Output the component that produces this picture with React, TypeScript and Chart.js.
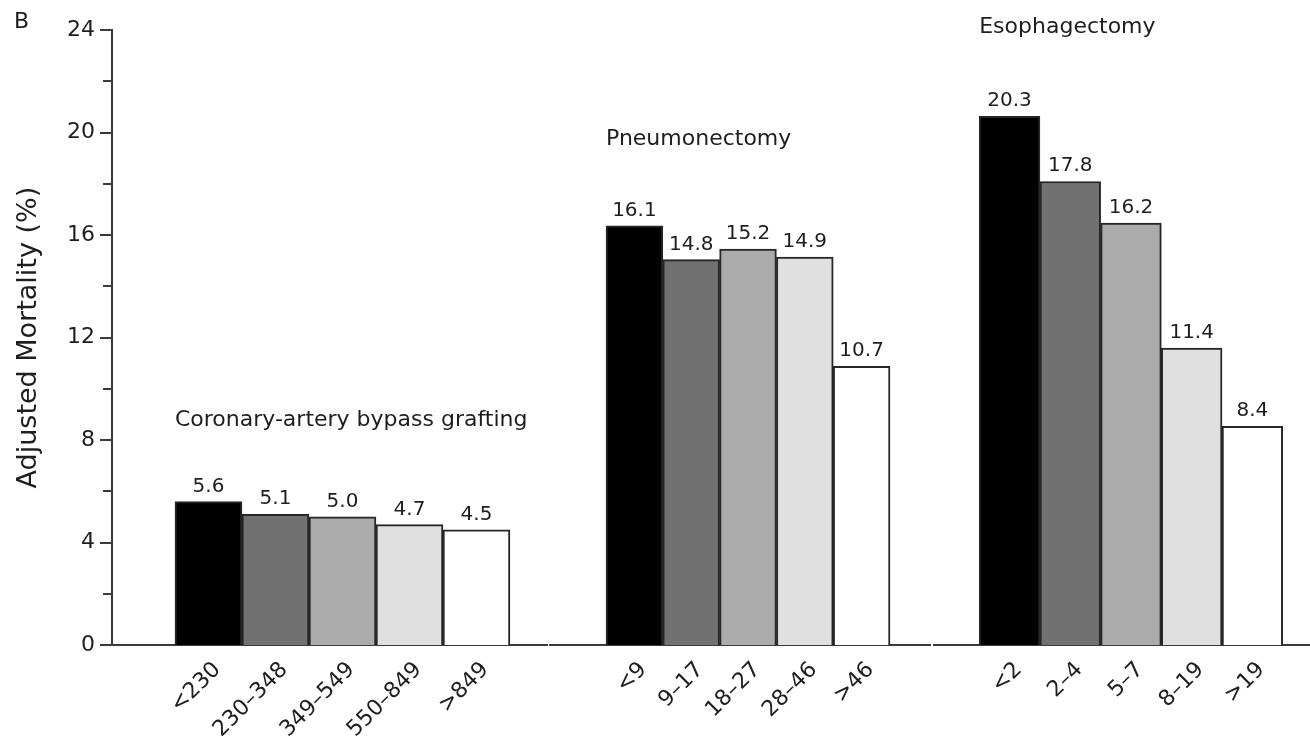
import React, { useEffect, useRef } from 'react';
import { Chart, registerables } from 'chart.js';
Chart.register(...registerables);

// ---- data ----
const cabgCategories = ['<230', '230–348', '349–549', '550–849', '>849'];
const cabgValues = [5.6, 5.1, 5.0, 4.7, 4.5];
const pneumCategories = ['<9', '9–17', '18–27', '28–46', '>46'];
const pneumValues = [16.1, 14.8, 15.2, 14.9, 10.7];
const esoCategories = ['<2', '2–4', '5–7', '8–19', '>19'];
const esoValues = [20.3, 17.8, 16.2, 11.4, 8.4];
const yMajorTicks = [0, 4, 8, 12, 16, 20, 24];
const yMinorTicks = [2, 6, 10, 14, 18, 22];
const barColors = ['#000000', '#717171', '#ababab', '#e0e0e0', '#ffffff'];

const FONT = "'DejaVu Sans', sans-serif";
const TEXT = '#1e1e1e';
const AXIS = '#3a3a3a';

type PanelProps = {
  categories: string[];
  values: number[];
  title: string;
  titleY: number;
  showY: boolean;
  xMin: number;
  xMax: number;
  left: number;
  width: number;
  padL: number;
  padR: number;
};

function Panel(p: PanelProps) {
  const ref = useRef<HTMLCanvasElement>(null);
  useEffect(() => {
    const canvas = ref.current!;
    const valuePlugin = {
      id: 'valueLabels',
      afterDatasetsDraw(chart: any) {
        const ctx = chart.ctx;
        const meta = chart.getDatasetMeta(0);
        ctx.save();
        ctx.font = `20px ${FONT}`;
        ctx.fillStyle = TEXT;
        ctx.textAlign = 'center';
        ctx.textBaseline = 'alphabetic';
        meta.data.forEach((el: any, i: number) => {
          ctx.fillText(p.values[i].toFixed(1), el.x, el.y - 10);
        });
        // panel title
        const xs = chart.scales.x;
        const ys = chart.scales.y;
        ctx.font = `22px ${FONT}`;
        ctx.textAlign = 'left';
        ctx.fillText(p.title, xs.getPixelForValue(0.5), ys.getPixelForValue(p.titleY));
        ctx.restore();
      },
      afterDraw(chart: any) {
        if (!p.showY) return;
        const ys = chart.scales.y;
        const ctx = chart.ctx;
        ctx.save();
        ctx.strokeStyle = AXIS;
        ctx.lineWidth = 2;
        const xr = chart.chartArea.left;
        const draw = (v: number, len: number) => {
          const y = Math.round(ys.getPixelForValue(v));
          ctx.beginPath();
          ctx.moveTo(xr - len, y);
          ctx.lineTo(xr, y);
          ctx.stroke();
        };
        yMajorTicks.forEach((v) => draw(v, 12));
        yMinorTicks.forEach((v) => draw(v, 9));
        ctx.restore();
      },
    };
    const chart = new Chart(canvas, {
      type: 'bar',
      data: {
        datasets: [
          {
            data: p.values.map((v, i) => ({ x: i + 1, y: v })),
            backgroundColor: barColors,
            borderColor: '#262626',
            borderWidth: 2,
            barPercentage: 1,
            categoryPercentage: 1,
          } as any,
        ],
      },
      options: {
        animation: false,
        responsive: false,
        maintainAspectRatio: false,
        layout: { padding: { top: 20, left: p.padL, right: p.padR, bottom: 0 }, autoPadding: false } as any,
        plugins: { legend: { display: false }, tooltip: { enabled: false } },
        scales: {
          x: {
            type: 'linear',
            offset: false,
            min: p.xMin,
            max: p.xMax,
            grid: { display: false },
            border: { display: true, color: AXIS, width: 2 },
            afterBuildTicks: (s: any) => {
              s.ticks = p.categories.map((_, i) => ({ value: i + 1 }));
            },
            afterFit: (s: any) => {
              s.height = 96;
            },
            ticks: {
              autoSkip: false,
              minRotation: 45,
              maxRotation: 45,
              padding: 4,
              labelOffset: 9,
              color: TEXT,
              font: { family: FONT, size: 22 },
              callback: (v: any) => p.categories[Math.round(v) - 1] ?? '',
            },
          },
          y: {
            display: p.showY,
            min: 0,
            max: 24,
            grid: { display: false, drawTicks: false },
            border: { display: true, color: AXIS, width: 2 },
            afterBuildTicks: (s: any) => {
              s.ticks = yMajorTicks.map((v) => ({ value: v }));
            },
            afterFit: (s: any) => {
              if (p.showY) s.width = 112;
              else s.width = 0;
            },
            ticks: {
              padding: 17,
              color: TEXT,
              font: { family: FONT, size: 22 },
            },
            title: {
              display: true,
              text: 'Adjusted Mortality (%)',
              color: TEXT,
              font: { family: FONT, size: 27 },
              padding: { top: 13, bottom: 0 },
            },
          } as any,
        },
      },
      plugins: [valuePlugin],
    });
    return () => chart.destroy();
  }, []);
  return (
    <canvas
      ref={ref}
      width={p.width}
      height={741}
      style={{ position: 'absolute', left: p.left, top: 0, width: p.width, height: 741, display: 'block' }}
    />
  );
}

export default function App() {
  return (
    <div style={{ position: 'absolute', left: 0, top: 0, width: 1310, height: 741, background: '#fff', overflow: 'hidden' }}>
      <Panel
        categories={cabgCategories}
        values={cabgValues}
        title="Coronary-artery bypass grafting"
        titleY={8.56}
        showY={true}
        xMin={-0.44}
        xMax={6.053}
        left={0}
        width={548}
        padL={0}
        padR={1}
      />
      <Panel
        categories={pneumCategories}
        values={pneumValues}
        title="Pneumonectomy"
        titleY={19.2}
        showY={false}
        xMin={-0.486}
        xMax={6.204}
        left={548}
        width={384}
        padL={2}
        padR={2}
      />
      <Panel
        categories={esoCategories}
        values={esoValues}
        title="Esophagectomy"
        titleY={23.5}
        showY={false}
        xMin={-0.245}
        xMax={5.949}
        left={932}
        width={378}
        padL={2}
        padR={0}
      />
      <div style={{ position: 'absolute', left: 14, top: 8, font: `22px ${FONT}`, color: TEXT, lineHeight: '26px' }}>B</div>
    </div>
  );
}
